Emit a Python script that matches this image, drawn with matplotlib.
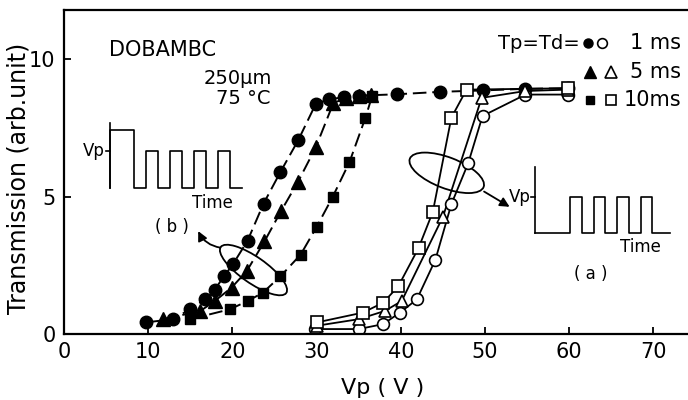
import matplotlib
matplotlib.use('Agg')
import matplotlib.pyplot as plt
import matplotlib.transforms as mtransforms
from matplotlib.patches import Ellipse

# --- data: Vp (V) vs transmission (arb. unit) ---
# (b) filled markers, first pulse large
v_b1 = [9.7, 12.9, 15.0, 16.7, 17.9, 19.0, 20.1, 21.8, 23.7, 25.7, 27.8, 29.9,
        31.5, 33.2, 35.0, 39.5, 44.7, 49.7, 54.8, 59.8]
t_b1 = [0.42, 0.54, 0.90, 1.26, 1.62, 2.10, 2.56, 3.40, 4.75, 5.90, 7.05, 8.38,
        8.55, 8.62, 8.68, 8.73, 8.82, 8.87, 8.93, 8.95]
v_b5 = [11.8, 16.2, 17.9, 19.9, 21.7, 23.8, 25.8, 27.8, 29.9, 32.0, 33.5, 35.0, 36.5]
t_b5 = [0.54, 0.84, 1.20, 1.69, 2.29, 3.37, 4.49, 5.55, 6.80, 8.42, 8.58, 8.65, 8.70]
v_b10 = [15.0, 19.7, 21.8, 23.6, 25.7, 28.1, 30.0, 31.9, 33.9, 35.8, 36.6]
t_b10 = [0.54, 0.90, 1.20, 1.50, 2.10, 2.89, 3.90, 4.99, 6.26, 7.88, 8.68]

# (a) open markers, equal pulses
v_a1 = [29.8, 35.0, 37.9, 39.9, 41.9, 44.1, 46.0, 48.0, 49.7, 54.8, 59.8]
t_a1 = [0.18, 0.18, 0.36, 0.78, 1.26, 2.70, 4.73, 6.22, 7.94, 8.72, 8.72]
v_a5 = [30.0, 35.0, 38.1, 40.1, 45.0, 49.6, 54.8, 59.8]
t_a5 = [0.30, 0.54, 0.84, 1.20, 4.27, 8.60, 8.85, 8.90]
v_a10 = [30.0, 35.5, 37.9, 39.7, 42.1, 43.8, 46.0, 47.8, 59.8]
t_a10 = [0.42, 0.78, 1.14, 1.74, 3.13, 4.45, 7.88, 8.90, 8.95]

x_ticks = [0, 10, 20, 30, 40, 50, 60, 70]
y_ticks = [0, 5, 10]

# pulse trains for the two insets (time units, Vp = 1)
wave_b_t = [0, 0, 2, 2, 3, 3, 4, 4, 5, 5, 6, 6, 7, 7, 8, 8, 9, 9, 10, 10, 11]
wave_b_v = [0, 1.57, 1.57, 0, 0, 1, 1, 0, 0, 1, 1, 0, 0, 1, 1, 0, 0, 1, 1, 0, 0]
wave_a_t = [0, 3, 3, 4, 4, 5, 5, 6, 6, 7, 7, 8, 8, 9, 9, 10, 10, 11.5]
wave_a_v = [0, 0, 1, 1, 0, 0, 1, 1, 0, 0, 1, 1, 0, 0, 1, 1, 0, 0]

plt.rcParams['font.family'] = ['DejaVu Sans']
W, H = 688, 400
fig = plt.figure(figsize=(W / 100, H / 100), dpi=100)
ax = fig.add_axes([64 / W, 66 / H, 624 / W, 324 / H])
ax.set_xlim(0, 74.1)
ax.set_ylim(0, 11.8)

dash = (0, (7, 3))
ax.plot(v_b1, t_b1, color='black', lw=1.4, ls=dash)
ax.plot(v_b5, t_b5, color='black', lw=1.4, ls=dash)
ax.plot(v_b10, t_b10, color='black', lw=1.4, ls=dash)
ax.plot(v_a1, t_a1, color='black', lw=1.3)
ax.plot(v_a5, t_a5, color='black', lw=1.3)
ax.plot(v_a10, t_a10, color='black', lw=1.3)

ax.plot(v_b1, t_b1, 'o', color='black', ms=9)
ax.plot(v_b5, t_b5, '^', color='black', ms=10)
ax.plot(v_b10, t_b10, 's', color='black', ms=7)
openm = dict(mfc='white', mec='black', mew=1.2, ls='none')
ax.plot(v_a1, t_a1, 'o', ms=8.5, **openm)
ax.plot(v_a5, t_a5, '^', ms=9, **openm)
ax.plot(v_a10, t_a10, 's', ms=8.5, **openm)

ax.set_xticks(x_ticks)
ax.set_yticks(y_ticks)
ax.tick_params(direction='in', length=5, width=1.3, labelsize=15, pad=6)
for s in ax.spines.values():
    s.set_linewidth(1.6)
ax.spines['right'].set_visible(False)
ax.set_xlabel('Vp ( V )', fontsize=16)
ax.xaxis.set_label_coords(0.511, -0.135)
ax.set_ylabel('Transmission (arb.unit)', fontsize=17)
ax.yaxis.set_label_coords(-0.054, 0.48)

# sample description
ax.text(5.4, 10.33, 'DOBAMBC', fontsize=15, va='center', ha='left')
ax.text(24.7, 9.31, '250μm', fontsize=14, va='center', ha='right')
ax.text(24.5, 8.58, '75 °C', fontsize=14, va='center', ha='right')

# legend built by hand like the original
ax.text(61.3, 10.58, 'Tp=Td=', fontsize=14, va='center', ha='right')
ax.plot([62.2], [10.58], 'o', color='black', ms=6.5)
ax.plot([63.9], [10.58], 'o', ms=7, **openm)
ax.text(73.3, 10.58, '1 ms', fontsize=15, va='center', ha='right')
ax.plot([62.5], [9.53], '^', color='black', ms=8)
ax.plot([65.0], [9.53], '^', ms=8, **openm)
ax.text(73.3, 9.53, '5 ms', fontsize=15, va='center', ha='right')
ax.plot([62.5], [8.51], 's', color='black', ms=5.5)
ax.plot([65.0], [8.51], 's', ms=7.5, **openm)
ax.text(73.3, 8.51, '10ms', fontsize=15, va='center', ha='right')


def ring(cx, cy, w_px, h_px, angle):
    tr = fig.dpi_scale_trans + mtransforms.ScaledTranslation(cx, cy, ax.transData)
    ax.add_patch(Ellipse((0, 0), w_px / 100, h_px / 100, angle=angle,
                         fill=False, lw=1.3, color='black', transform=tr))


ring(22.5, 2.33, 80, 26, -35)
ring(45.45, 5.87, 79, 31, -21)
ax.annotate('', xy=(15.8, 3.84), xytext=(18.9, 3.13),
            arrowprops=dict(arrowstyle='-|>', lw=1.3, color='black',
                            mutation_scale=14, connectionstyle='arc3,rad=-0.3'))
ax.annotate('', xy=(53.2, 4.58), xytext=(49.6, 5.24),
            arrowprops=dict(arrowstyle='-|>', lw=1.3, color='black', mutation_scale=14))
ax.text(12.8, 3.9, '( b )', fontsize=12, ha='center', va='center')
ax.text(62.5, 2.2, '( a )', fontsize=12, ha='center', va='center')


def pulse_inset(px0, py_base, w_px, h_px, t, v, tmax, vmax, time_x):
    ia = fig.add_axes([px0 / W, (H - py_base) / H, w_px / W, h_px / H])
    ia.set_xlim(0, tmax)
    ia.set_ylim(0, vmax)
    ia.axis('off')
    ia.plot(t, v, color='black', lw=1.2, clip_on=False)
    ia.plot([0, 0], [0, vmax], color='black', lw=1.2, clip_on=False)
    ia.plot([-0.35, 0], [1, 1], color='black', lw=1.2, clip_on=False)
    ia.text(-0.4, 1, 'Vp', fontsize=12, ha='right', va='center')
    ia.text(time_x, -0.15, 'Time', fontsize=12, ha='center', va='top')
    return ia


pulse_inset(110, 188, 132, 65, wave_b_t, wave_b_v, 11, 1.76, 8.5)
pulse_inset(535, 232.7, 135, 65.7, wave_a_t, wave_a_v, 11.5, 1.86, 9.0)

fig.savefig('out.png', dpi=100)
